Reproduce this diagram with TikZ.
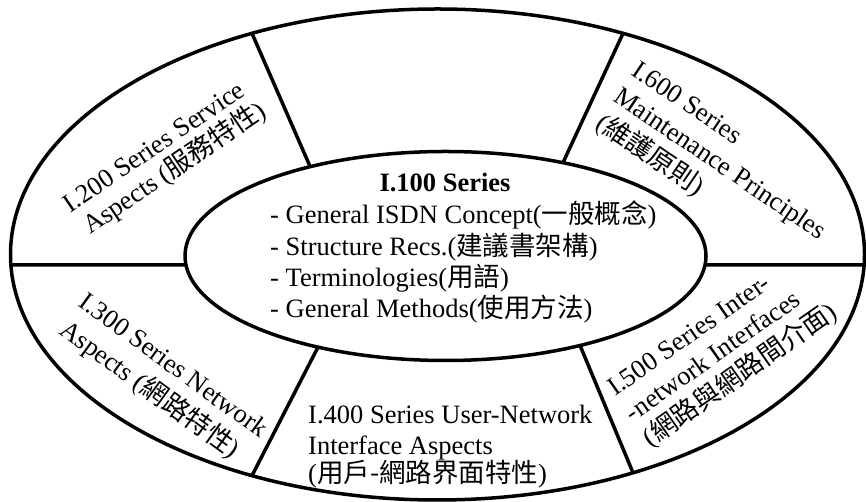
\documentclass[tikz,border=0pt]{standalone}
\usepackage{fontspec}
\setmainfont{Liberation Serif}
\newfontfamily\cjkfont{Noto Sans CJK TC}
\newcommand{\zh}[1]{{\cjkfont #1}}
\usetikzlibrary{calc}
\begin{document}
\begin{tikzpicture}[x=1pt,y=1pt,
  rim/.style={line width=3.5pt},
  divider/.style={line width=3.5pt},
  txt/.style={font=\fontsize{26.5}{31}\selectfont, inner sep=0pt},
]
\useasboundingbox (0,0) rectangle (866,502);
% centres of the two ellipses
\coordinate (oc) at (437.5,247.5);
\coordinate (ic) at (445.5,246);
% end points of the dividing strokes, on the outer and inner rims
\coordinate (ulO) at ($(oc)+(115.75:427pt and 245.5pt)$);
\coordinate (ulI) at ($(ic)+(121.3:260.5pt and 104.5pt)$);
\coordinate (urO) at ($(oc)+(64.25:427pt and 245.5pt)$);
\coordinate (urI) at ($(ic)+(63.2:260.5pt and 104.5pt)$);
\coordinate (llO) at ($(oc)+(244.25:427pt and 245.5pt)$);
\coordinate (llI) at ($(ic)+(240.7:260.5pt and 104.5pt)$);
\coordinate (lrO) at ($(oc)+(297.25:427pt and 245.5pt)$);
\coordinate (lrI) at ($(ic)+(301.1:260.5pt and 104.5pt)$);
\coordinate (lO) at ($(oc)+(182.45:427pt and 245.5pt)$);
\coordinate (lI) at ($(ic)+(184.94:260.5pt and 104.5pt)$);
\coordinate (rO) at ($(oc)+(-2.45:427pt and 245.5pt)$);
\coordinate (rI) at ($(ic)+(-4.94:260.5pt and 104.5pt)$);
\draw[divider] (ulO) -- (ulI);
\draw[divider] (urO) -- (urI);
\draw[divider] (llO) -- (llI);
\draw[divider] (lrO) -- (lrI);
\draw[divider] (lO) -- (lI);
\draw[divider] (rO) -- (rI);
% the two rims
\draw[rim] (oc) ellipse [x radius=427pt, y radius=245.5pt];
\draw[rim] (ic) ellipse [x radius=260.5pt, y radius=104.5pt];

% core: I.100
\node[txt, anchor=base] (t100) at (445,310) {\bfseries I.100 Series};
\node[txt, anchor=base west] (a100) at (270,278) {- General ISDN Concept(\zh{一般概念})};
\node[txt, anchor=base west] (b100) at (270,246) {- Structure Recs.(\zh{建議書架構})};
\node[txt, anchor=base west] (c100) at (270,215) {- Terminologies(\zh{用語})};
\node[txt, anchor=base west] (d100) at (270,184) {- General Methods(\zh{使用方法})};

% ring segment I.200 (lines centred)
\node[txt, anchor=base, rotate=34] (a200) at (158.5,348) {I.200 Series Service};
\node[txt, anchor=base, rotate=34] (b200) at (179,327) {Aspects (\zh{服務特性})};
% ring segment I.300 (lines centred)
\node[txt, anchor=base, rotate=-36] (a300) at (168.5,130) {I.300 Series Network};
\node[txt, anchor=base, rotate=-36] (b300) at (145,106) {Aspects (\zh{網路特性})};
% ring segment I.400
\node[txt, anchor=base west] (a400) at (308,78) {I.400 Series User-Network};
\node[txt, anchor=base west] (b400) at (308,47) {Interface Aspects};
\node[txt, anchor=base west] (c400) at (308,19) {(\zh{用戶-網路界面特性})};
% ring segment I.500 (lines flush left)
\node[txt, anchor=base west, rotate=35] (a500) at (615,105) {I.500 Series Inter-};
\node[txt, anchor=base west, rotate=35] (b500) at (632.8,79.6) {-network Interfaces};
\node[txt, anchor=base west, rotate=35] (c500) at (650.6,54.2) {(\zh{網路與網路間介面})};
% ring segment I.600 (lines flush left)
\node[txt, anchor=base west, rotate=-34] (a600) at (630,428) {I.600 Series};
\node[txt, anchor=base west, rotate=-34] (b600) at (612.1,401.5) {Maintenance Principles};
\node[txt, anchor=base west, rotate=-34] (c600) at (594.2,375) {(\zh{維護原則})};
\end{tikzpicture}
\end{document}
